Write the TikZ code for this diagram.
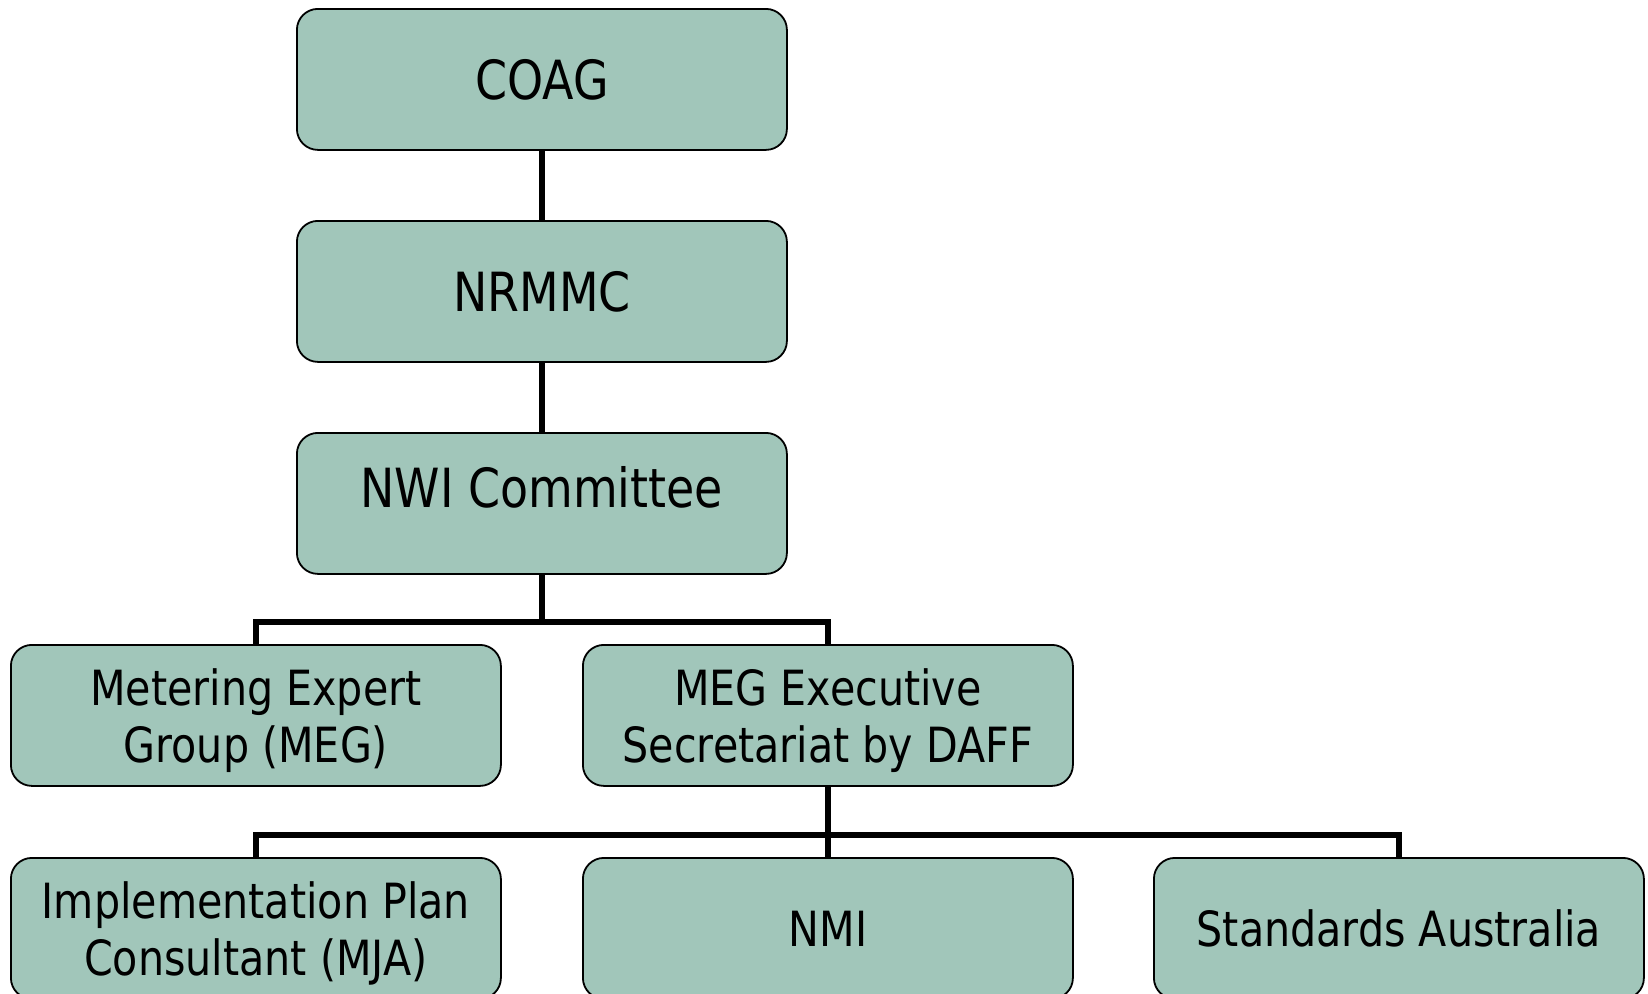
\documentclass[tikz,border=0pt]{standalone}
\usepackage{fontspec}
\setmainfont{DejaVu Sans}[FakeStretch=0.85]
\definecolor{boxfill}{RGB}{161,198,186}
\begin{document}
\begin{tikzpicture}[x=1pt,y=-1pt,
  box/.style={draw=black, line width=1.8pt, fill=boxfill, rounded corners=21pt,
    minimum width=490pt, minimum height=141pt, inner sep=0pt, align=center, anchor=north west,
    text depth=0pt},
  big/.style={font=\fontsize{54}{57}\selectfont},
  small/.style={font=\fontsize{48.5}{57}\selectfont},
  conn/.style={draw=black, line width=5.5pt}]
\useasboundingbox (0,0) rectangle (1648,993);
\node[box,big] (coag) at (296,8) {COAG};
\node[box,big] (nrmmc) at (296,220) {NRMMC};
\node[box,big] (nwi) at (296,432) {\raisebox{33pt}{NWI Committee}};
\node[box,small] (meg) at (10,644) {Metering Expert\\Group (MEG)};
\node[box,small] (exec) at (582,644) {MEG Executive\\Secretariat by DAFF};
\node[box,small] (impl) at (10,857) {Implementation Plan\\Consultant (MJA)};
\node[box,small] (nmi) at (582,857) {NMI};
\node[box,small] (std) at (1153,857) {Standards Australia};
\draw[conn] (coag.south) -- (nrmmc.north);
\draw[conn] (nrmmc.south) -- (nwi.north);
\draw[conn] (nwi.south) -- ++(0,47) coordinate (b1);
\draw[conn] (meg.north) |- (b1) -| (exec.north);
\draw[conn] (exec.south) -- ++(0,48) coordinate (b2);
\draw[conn] (impl.north) |- (b2) -| (std.north);
\draw[conn] (b2) -- (nmi.north);
\end{tikzpicture}
\end{document}
